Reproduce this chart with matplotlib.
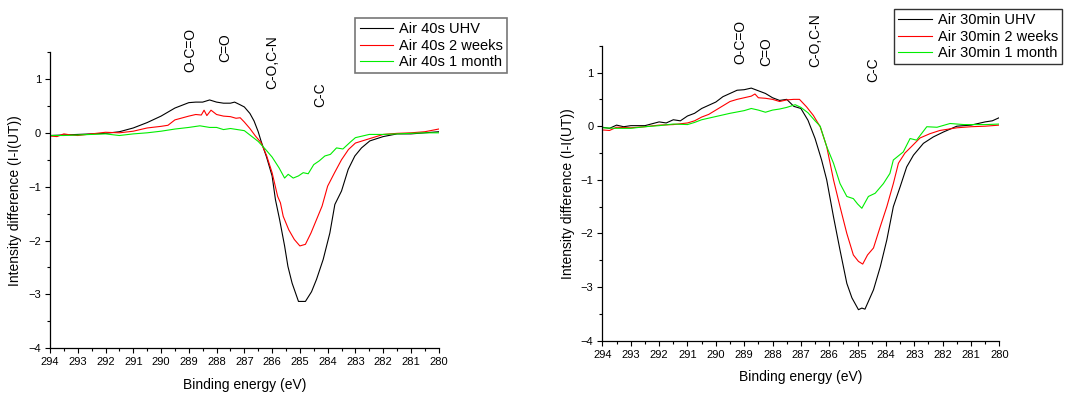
import matplotlib
matplotlib.use("Agg")
import matplotlib.pyplot as plt
from matplotlib.ticker import MultipleLocator

plt.rcParams['font.family'] = ['Liberation Sans', 'DejaVu Sans']

# ---- left panel: Air 40s ----
e40_uhv = [294, 293.5, 293, 292.5, 292, 291.5, 291, 290.5, 290, 289.5, 289, 288.75, 288.5,
           288.25, 288, 287.75, 287.5, 287.35, 287.15, 287.0, 286.8, 286.65, 286.5, 286.4,
           286.2, 286.0, 285.88, 285.73, 285.55, 285.43, 285.28, 285.05, 284.8, 284.58,
           284.4, 284.16, 283.92, 283.74, 283.5, 283.26, 283.02, 282.78, 282.48, 282.0,
           281.5, 281.0, 280.5, 280.0]
i40_uhv = [-0.05, -0.04, -0.03, -0.02, -0.01, 0.02, 0.09, 0.19, 0.31, 0.46, 0.56, 0.57, 0.57,
           0.61, 0.57, 0.55, 0.55, 0.57, 0.52, 0.48, 0.36, 0.22, 0.02, -0.15,
           -0.45, -0.80, -1.24, -1.61, -2.10, -2.48, -2.79, -3.13, -3.13, -2.95,
           -2.72, -2.35, -1.86, -1.33, -1.08, -0.68, -0.43, -0.28, -0.15, -0.07,
           -0.02, -0.02, 0.0, 0.02]

e40_2w = [294, 293.75, 293.5, 293.25, 293, 292.5, 292, 291.5, 291, 290.5, 290, 289.75, 289.5,
          289, 288.75, 288.55, 288.45, 288.35, 288.2, 288, 287.75, 287.5, 287.3, 287.15, 287,
          286.8, 286.6, 286.4, 286.2, 286, 285.8, 285.7, 285.6, 285.4, 285.2, 285, 284.8,
          284.6, 284.4, 284.2, 284, 283.75, 283.5, 283.25, 283, 282.75, 282.5, 282, 281.5,
          281, 280.5, 280]
i40_2w = [-0.06, -0.07, -0.02, -0.04, -0.05, -0.02, 0.01, 0.0, 0.03, 0.09, 0.12, 0.14, 0.24,
          0.31, 0.34, 0.33, 0.42, 0.32, 0.42, 0.34, 0.31, 0.30, 0.27, 0.28, 0.20,
          0.08, -0.06, -0.18, -0.42, -0.74, -1.18, -1.30, -1.55, -1.80, -1.98, -2.10, -2.07,
          -1.86, -1.61, -1.36, -0.99, -0.74, -0.50, -0.31, -0.19, -0.15, -0.11, -0.03, -0.01,
          0.0, 0.02, 0.07]

e40_1m = [294, 293.5, 293, 292.5, 292, 291.5, 291, 290.5, 290, 289.5, 289, 288.6, 288.25, 288,
          287.75, 287.5, 287.25, 287, 286.75, 286.5, 286.25, 286, 285.75, 285.55, 285.42,
          285.24, 285.05, 284.88, 284.7, 284.5, 284.3, 284.1, 283.9, 283.68, 283.45, 283.2,
          283.0, 282.75, 282.5, 282, 281.5, 281, 280.5, 280]
i40_1m = [-0.05, -0.05, -0.04, -0.03, -0.02, -0.05, -0.02, 0.0, 0.03, 0.07, 0.10, 0.13, 0.10, 0.10,
          0.06, 0.08, 0.06, 0.04, -0.06, -0.16, -0.30, -0.45, -0.65, -0.84, -0.77,
          -0.84, -0.80, -0.74, -0.76, -0.59, -0.52, -0.43, -0.40, -0.28, -0.30, -0.18,
          -0.09, -0.06, -0.03, -0.03, -0.02, -0.01, 0.0, 0.0]

# ---- right panel: Air 30min ----
e30_uhv = [294, 293.75, 293.5, 293.25, 293, 292.5, 292, 291.75, 291.5, 291.25, 291, 290.75, 290.5,
           290.25, 290, 289.75, 289.5, 289.25, 289, 288.75, 288.5, 288.25, 288, 287.75, 287.5,
           287.25, 287, 286.75, 286.5, 286.27, 286.09, 285.85, 285.62, 285.38, 285.2, 284.97,
           284.85, 284.74, 284.44, 284.2, 283.97, 283.74, 283.5, 283.27, 283.03, 282.68,
           282.33, 281.98, 281.5, 281, 280.5, 280.25, 280]
i30_uhv = [-0.02, -0.04, 0.02, -0.01, 0.01, 0.01, 0.08, 0.06, 0.12, 0.10, 0.19, 0.24, 0.33,
           0.39, 0.45, 0.55, 0.61, 0.67, 0.68, 0.71, 0.66, 0.61, 0.53, 0.48, 0.50,
           0.37, 0.33, 0.11, -0.23, -0.63, -1.0, -1.69, -2.31, -2.93, -3.2, -3.42,
           -3.39, -3.41, -3.05, -2.62, -2.12, -1.5, -1.13, -0.76, -0.54, -0.32,
           -0.2, -0.11, 0.0, 0.02, 0.08, 0.10, 0.16]

e30_2w = [294, 293.75, 293.5, 293, 292.5, 292, 291.5, 291, 290.75, 290.5, 290.25, 290, 289.75,
          289.5, 289.25, 289, 288.75, 288.62, 288.5, 288.25, 288, 287.75, 287.5, 287.25, 287.05,
          286.8, 286.56, 286.32, 286.09, 285.97, 285.85, 285.62, 285.38, 285.15, 284.97,
          284.82, 284.65, 284.44, 284.2, 283.97, 283.74, 283.56, 283.33, 283.1, 282.8,
          282.45, 282.1, 281.5, 281, 280.5, 280]
i30_2w = [-0.07, -0.08, -0.02, -0.03, -0.01, 0.02, 0.03, 0.06, 0.10, 0.17, 0.22, 0.30, 0.38,
          0.46, 0.50, 0.53, 0.56, 0.60, 0.53, 0.52, 0.50, 0.46, 0.49, 0.50, 0.50,
          0.36, 0.20, -0.01, -0.38, -0.69, -1.0, -1.5, -2.0, -2.40, -2.52,
          -2.57, -2.40, -2.27, -1.87, -1.5, -1.07, -0.69, -0.50, -0.38, -0.22,
          -0.14, -0.08, -0.03, -0.01, 0.0, 0.02]

e30_1m = [294, 293.5, 293, 292.5, 292, 291.5, 291, 290.75, 290.5, 290, 289.5, 289, 288.75, 288.5,
          288.25, 288, 287.75, 287.5, 287.2, 287, 286.75, 286.5, 286.32, 286.09, 285.85,
          285.62, 285.38, 285.15, 285.0, 284.85, 284.62, 284.38, 284.09, 283.86, 283.74,
          283.39, 283.15, 282.92, 282.56, 282.2, 281.74, 281.25, 280.5, 280]
i30_1m = [-0.03, -0.04, -0.04, -0.01, 0.01, 0.04, 0.03, 0.07, 0.12, 0.18, 0.24, 0.29, 0.33, 0.30,
          0.26, 0.30, 0.32, 0.35, 0.40, 0.35, 0.25, 0.10, 0.0, -0.38, -0.69,
          -1.07, -1.31, -1.35, -1.45, -1.53, -1.31, -1.25, -1.07, -0.88, -0.63,
          -0.48, -0.23, -0.26, -0.01, -0.02, 0.05, 0.03, 0.03, 0.04]

peak_names = ['O-C=O', 'C=O', 'C-O,C-N', 'C-C']
peaks40_x = [288.95, 287.7, 286.0, 284.25]
peaks40_y = [1.13, 1.32, 0.82, 0.47]
peaks30_x = [289.15, 288.23, 286.5, 284.45]
peaks30_y = [1.15, 1.12, 1.10, 0.82]

labels40 = ['Air 40s UHV', 'Air 40s 2 weeks', 'Air 40s 1 month']
labels30 = ['Air 30min UHV', 'Air 30min 2 weeks', 'Air 30min 1 month']
colors = ['#000000', '#ff0000', '#00ee00']

fig = plt.figure(figsize=(10.7, 3.94), dpi=100)
ax1 = fig.add_axes([0.0467, 0.116, 0.3633, 0.752])
ax2 = fig.add_axes([0.563, 0.135, 0.371, 0.749])


def style(ax, xl_y, yl_x):
    ax.set_xlim(294, 280)
    ax.set_ylim(-4, 1.5)
    for s in ['top', 'right']:
        ax.spines[s].set_visible(False)
    for s in ['left', 'bottom']:
        ax.spines[s].set_linewidth(0.9)
    ax.xaxis.set_major_locator(MultipleLocator(1))
    ax.xaxis.set_minor_locator(MultipleLocator(0.5))
    ax.yaxis.set_major_locator(MultipleLocator(1))
    ax.yaxis.set_minor_locator(MultipleLocator(0.5))
    ax.tick_params(which='major', direction='out', length=3.5, width=0.8, labelsize=8, pad=3)
    ax.tick_params(which='minor', direction='out', length=2, width=0.8)
    ax.set_xlabel('Binding energy (eV)', fontsize=10)
    ax.set_ylabel('Intensity difference (I-I(UT))', fontsize=10)
    ax.xaxis.set_label_coords(0.5, xl_y)
    ax.yaxis.set_label_coords(yl_x, 0.5)


series40 = [(e40_uhv, i40_uhv), (e40_2w, i40_2w), (e40_1m, i40_1m)]
series30 = [(e30_uhv, i30_uhv), (e30_2w, i30_2w), (e30_1m, i30_1m)]

lines = []
for (x, y), c, lab in zip(series40, colors, labels40):
    lines += ax1.plot(x, y, color=c, lw=0.8, label=lab)
style(ax1, -0.10, -0.072)
for name, px, py in zip(peak_names, peaks40_x, peaks40_y):
    ax1.text(px, py, name, rotation=90, ha='center', va='bottom', fontsize=10, clip_on=False)
leg1 = fig.legend(lines, labels40, loc='upper left', bbox_to_anchor=(0.332, 0.954),
                  fontsize=10.5, frameon=True, fancybox=False, handlelength=2.3,
                  borderpad=0.3, labelspacing=0.15, handletextpad=0.4, borderaxespad=0)
leg1.get_frame().set_edgecolor('#555555')
leg1.get_frame().set_linewidth(1.2)

lines = []
for (x, y), c, lab in zip(series30, colors, labels30):
    lines += ax2.plot(x, y, color=c, lw=0.8, label=lab)
style(ax2, -0.10, -0.069)
for name, px, py in zip(peak_names, peaks30_x, peaks30_y):
    ax2.text(px, py, name, rotation=90, ha='center', va='bottom', fontsize=10, clip_on=False)
leg2 = fig.legend(lines, labels30, loc='upper left', bbox_to_anchor=(0.8355, 0.977),
                  fontsize=10.5, frameon=True, fancybox=False, handlelength=2.3,
                  borderpad=0.3, labelspacing=0.15, handletextpad=0.4, borderaxespad=0)
leg2.get_frame().set_edgecolor('#000000')
leg2.get_frame().set_linewidth(1.0)

fig.savefig('out.png', dpi=100)
